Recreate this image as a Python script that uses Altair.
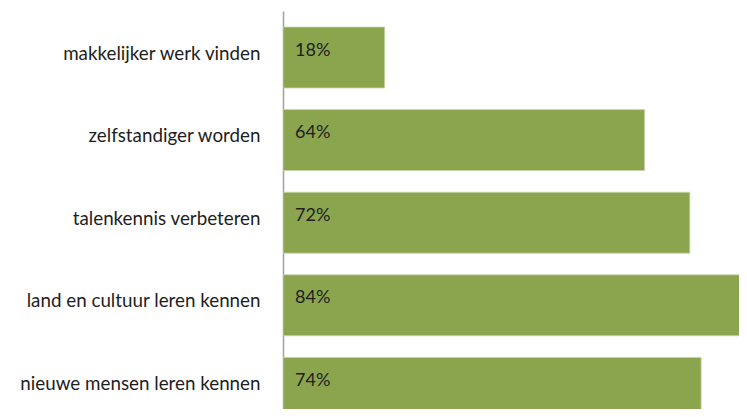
import altair as alt
import pandas as pd

categories = [
    "makkelijker werk vinden",
    "zelfstandiger worden",
    "talenkennis verbeteren",
    "land en cultuur leren kennen",
    "nieuwe mensen leren kennen",
]
values = [18, 64, 72, 84, 74]
value_labels = ["18%", "64%", "72%", "84%", "74%"]

df = pd.DataFrame({"cat": categories, "v": values, "lbl": value_labels})

FONT = "Lato"

y = alt.Y(
    "cat:N",
    sort=categories,
    scale=alt.Scale(range=[0, 423.4], paddingInner=0.2615, paddingOuter=0.194),
    axis=alt.Axis(
        title=None,
        ticks=False,
        domainColor="#a0a0a0",
        domainWidth=1.5,
        labelPadding=23,
        labelFontSize=18.8,
        labelFont=FONT,
        labelColor="#1e1e1e",
        labelLimit=400,
        labelOffset=-4,
    ),
)

bars = alt.Chart(df).mark_bar(color="#8BA54F", stroke="#c9d6ad", strokeWidth=0.8, clip=True).encode(
    y=y,
    x=alt.X("v:Q", scale=alt.Scale(domain=[0, 80.7]), axis=None),
)

text = alt.Chart(df).mark_text(
    align="left", baseline="middle", dx=12, dy=-7, fontSize=18, font=FONT, color="#1e1e1e"
).encode(
    y=alt.Y("cat:N", sort=categories),
    x=alt.value(0),
    text="lbl:N",
)

chart = (
    alt.layer(bars, text)
    .properties(
        width=456,
        height=398,
        autosize=alt.AutoSizeParams(type="none"),
        padding={"left": 275, "top": 3, "right": 0, "bottom": 0},
    )
    .configure_view(stroke=None)
)

chart.save("out.html", embed_options={"renderer": "svg", "actions": False})
